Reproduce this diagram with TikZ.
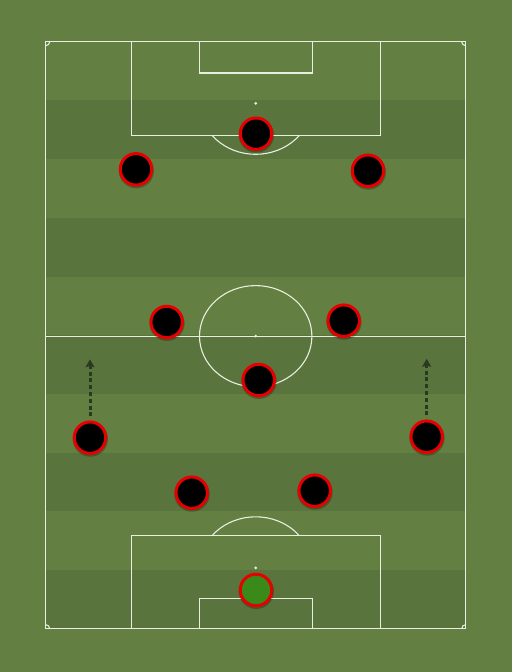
\documentclass[tikz,border=0pt]{standalone}
\usetikzlibrary{arrows.meta,shadows}
\definecolor{grassL}{HTML}{638042}
\definecolor{grassD}{HTML}{5A743E}
\definecolor{lineW}{HTML}{E8EEE0}
\definecolor{ringR}{HTML}{E60000}
\definecolor{gkG}{HTML}{3A8A1A}
\definecolor{moveC}{HTML}{2A3A22}
\begin{document}
\begin{tikzpicture}[x=1bp,y=-1bp,
  pline/.style={draw=lineW, line width=1.1bp},
  spot/.style={fill=lineW},
  player/.style={circle, inner sep=0pt, minimum size=31.5bp, fill=black, draw=ringR, line width=3bp,
    general shadow={shadow scale=1.12, shadow yshift=-1.2bp, shadow xshift=0.3bp, fill=black, opacity=0.25}},
  keeper/.style={player, fill=gkG},
  move/.style={draw=moveC, line width=3bp, dash pattern=on 4bp off 2.8bp, shorten <=4bp,
    -{Stealth[length=8bp,width=9bp,inset=1.5bp]}}
]
\useasboundingbox (0,0) rectangle (512,672);
\fill[grassL] (0,0) rectangle (512,672);
\foreach \i in {1,3,5,7,9}
  \fill[grassD] (45.7,{41.7+\i*58.7}) rectangle (465.7,{41.7+(\i+1)*58.7});
% pitch outline and halfway line
\draw[pline] (45.7,41.7) rectangle (465.7,628.7);
\draw[pline] (45.7,336.2) -- (465.7,336.2);
\draw[pline] (255.7,336.2) ellipse [x radius=56.2bp, y radius=50.6bp];
\fill[spot] (255.7,336.2) circle [radius=1.5bp];
% corner arcs
\begin{scope}
  \clip (45.7,41.7) rectangle (465.7,628.7);
  \foreach \cx/\cy in {45.7/41.7, 465.7/41.7, 45.7/628.7, 465.7/628.7}
    \draw[pline] (\cx,\cy) circle [radius=4bp];
\end{scope}
% top penalty area
\draw[pline] (131.5,41.7) rectangle (380.5,135.5);
\draw[pline] (199.5,41.7) rectangle (312.5,73);
\fill[spot] (255.7,103.3) circle [radius=1.5bp];
\begin{scope}
  \clip (0,135.5) rectangle (512,300);
  \draw[pline] (255.7,103.3) ellipse [x radius=56.2bp, y radius=51bp];
\end{scope}
% bottom penalty area
\draw[pline] (131.5,535.7) rectangle (380.5,628.7);
\draw[pline] (199.5,598.3) rectangle (312.5,628.7);
\fill[spot] (255.7,567.8) circle [radius=1.5bp];
\begin{scope}
  \clip (0,0) rectangle (512,535.7);
  \draw[pline] (255.7,567.8) ellipse [x radius=56.2bp, y radius=51bp];
\end{scope}
% players
\node[player] (p1) at (256,133.7) {};
\node[player] (p2) at (136,169.3) {};
\node[player] (p3) at (368,170.7) {};
\node[player] (p4) at (166.7,322) {};
\node[player] (p5) at (343.7,320.7) {};
\node[player] (p6) at (258.7,380) {};
\node[player] (p7) at (90,437.7) {};
\node[player] (p8) at (426.7,436.7) {};
\node[player] (p9) at (191.7,492.7) {};
\node[player] (p10) at (314.7,490.7) {};
\node[keeper] (gk) at (256,590) {};
% runs
\coordinate (t7) at (90,359.3);
\coordinate (t8) at (426.7,358.8);
\draw[move] (p7.north) -- (t7);
\draw[move] (p8.north) -- (t8);
\end{tikzpicture}
\end{document}
